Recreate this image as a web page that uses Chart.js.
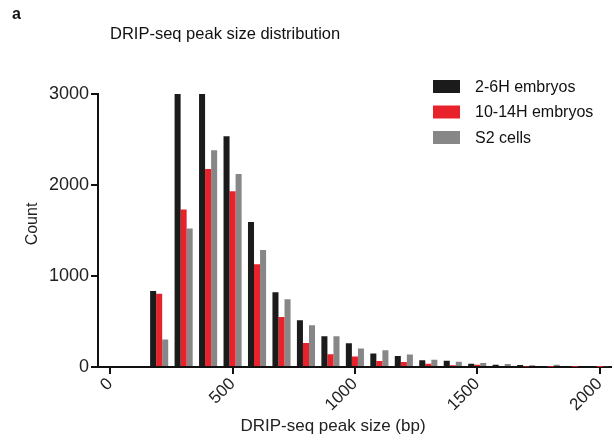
<!DOCTYPE html>
<html>
<head>
<meta charset="utf-8">
<script src="https://cdn.jsdelivr.net/npm/chart.js@4"></script>
<style>
  html, body { margin: 0; padding: 0; background: #fff; }
  #wrap { width: 614px; height: 440px; position: relative; }
</style>
</head>
<body>
<div id="wrap"><canvas id="peakChart"></canvas></div>
<script>
// bin centres (bp) and counts per sample
const binCenters = [200, 300, 400, 500, 600, 700, 800, 900, 1000, 1100, 1200, 1300, 1400, 1500, 1600, 1700, 1800, 1900, 2000];
const embryos2to6 = [835, 3400, 3300, 2535, 1593, 821, 513, 337, 262, 147, 120, 74, 70, 37, 26, 22, 8, 5, 4];
const embryos10to14 = [806, 1730, 2176, 1931, 1128, 549, 264, 139, 115, 66, 55, 37, 18, 26, 10, 5, 3, 2, 1];
const s2Cells = [301, 1521, 2381, 2121, 1286, 744, 458, 337, 202, 183, 138, 81, 59, 44, 33, 18, 26, 10, 8];
const xTickValues = [0, 500, 1000, 1500, 2000];
const yTickValues = [0, 1000, 2000, 3000];

const seriesNames = ['2-6H embryos', '10-14H embryos', 'S2 cells'];
const seriesColors = ['#1b1b1b', '#e8222b', '#878787'];

const toPoints = (vals) => vals.map((v, i) => ({ x: binCenters[i], y: v }));

const FONT = "'Liberation Sans', Arial, sans-serif";

// panel letter, title, axis titles and legend drawn on the canvas
const extrasPlugin = {
    id: 'extras',
    afterDraw(chart) {
        const ctx = chart.ctx;
        ctx.save();
        ctx.fillStyle = '#111';
        ctx.textBaseline = 'middle';
        ctx.textAlign = 'left';
        ctx.font = 'bold 16px ' + FONT;
        ctx.fillText('a', 12, 15);
        ctx.font = '16.5px ' + FONT;
        ctx.fillText('DRIP-seq peak size distribution', 110, 34);

        ctx.fillStyle = '#222';
        ctx.font = '17px ' + FONT;
        ctx.textAlign = 'center';
        ctx.fillText('DRIP-seq peak size (bp)', 333, 426);
        ctx.save();
        ctx.translate(33, 224);
        ctx.rotate(-Math.PI / 2);
        ctx.font = '16px ' + FONT;
        ctx.fillText('Count', 0, 0);
        ctx.restore();

        ctx.textAlign = 'left';
        ctx.font = '16px ' + FONT;
        seriesNames.forEach((name, i) => {
            const y = 86.5 + i * 25.5;
            ctx.fillStyle = seriesColors[i];
            ctx.fillRect(433, y - 6.5, 27, 13);
            ctx.fillStyle = '#111';
            ctx.fillText(name, 475, y + 1);
        });
        ctx.restore();
    }
};

new Chart(document.getElementById('peakChart'), {
    type: 'bar',
    data: {
        datasets: seriesNames.map((name, i) => ({
            label: name,
            data: toPoints([embryos2to6, embryos10to14, s2Cells][i]),
            backgroundColor: seriesColors[i],
            borderWidth: 0,
            barPercentage: 1.0,
            categoryPercentage: 0.74,
            clip: 0
        }))
    },
    options: {
        responsive: true,
        maintainAspectRatio: false,
        animation: false,
        layout: { padding: { top: 94, right: 0, bottom: 0, left: 0 } },
        plugins: {
            legend: { display: false },
            tooltip: { enabled: false }
        },
        scales: {
            x: {
                type: 'linear',
                offset: false,
                min: -50,
                max: 2045,
                afterBuildTicks(scale) {
                    scale.ticks = xTickValues.map(v => ({ value: v }));
                },
                afterFit(scale) { scale.height = 73; },
                grid: { display: true, offset: false, drawOnChartArea: false, tickLength: 7, tickColor: '#111', lineWidth: 2 },
                border: { color: '#111', width: 2 },
                ticks: {
                    color: '#222',
                    font: { family: FONT, size: 17 },
                    minRotation: 45,
                    maxRotation: 45,
                    padding: 0,
                    callback: (v) => String(v)
                },
                title: { display: false }
            },
            y: {
                min: 0,
                max: 3000,
                afterBuildTicks(scale) {
                    scale.ticks = yTickValues.map(v => ({ value: v }));
                },
                afterFit(scale) { scale.width = 98; },
                grid: { display: true, drawOnChartArea: false, tickLength: 7, tickColor: '#111', lineWidth: 2 },
                border: { color: '#111', width: 2 },
                ticks: {
                    color: '#222',
                    font: { family: FONT, size: 18 },
                    padding: 2,
                    callback: (v) => String(v)
                },
                title: { display: false }
            }
        }
    },
    plugins: [extrasPlugin]
});
</script>
</body>
</html>
